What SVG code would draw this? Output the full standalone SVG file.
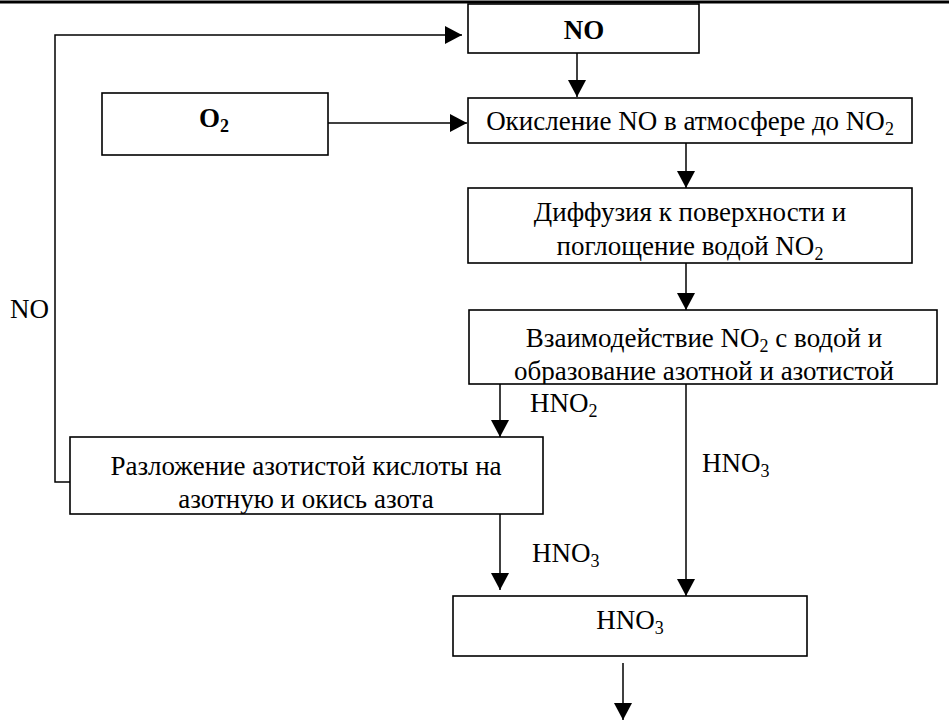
<svg xmlns="http://www.w3.org/2000/svg" width="949" height="720" viewBox="0 0 949 720">
<style>
.box{fill:#fff;stroke:#000;stroke-width:1.6}
text{font-family:'Liberation Serif','Times New Roman',Tinos,'DejaVu Serif',serif;font-size:27px;fill:#000}
.t{text-anchor:middle}
.b{font-weight:bold}
.ln{fill:none;stroke:#000;stroke-width:1.5}
.sub{font-size:18px}
</style>
<defs>
<marker id="ah" markerUnits="userSpaceOnUse" markerWidth="17" markerHeight="18" viewBox="0 0 17 18" refX="17" refY="9" orient="auto">
<path d="M0,0 L17,9 L0,18 Z" fill="#000"/>
</marker>
<clipPath id="c3"><rect x="468" y="188" width="444" height="75"/></clipPath>
<clipPath id="c4"><rect x="469" y="310" width="468" height="74"/></clipPath>
<clipPath id="c5"><rect x="70" y="437" width="473" height="77"/></clipPath>
</defs>
<line x1="0" y1="2" x2="949" y2="2" stroke="#000" stroke-width="3"/>
<g id="connectors">
<line class="ln" x1="577" y1="53" x2="577" y2="97" marker-end="url(#ah)"/>
<line class="ln" x1="328" y1="123" x2="467" y2="123" marker-end="url(#ah)"/>
<line class="ln" x1="686" y1="143" x2="686" y2="188" marker-end="url(#ah)"/>
<line class="ln" x1="686" y1="263" x2="686" y2="310" marker-end="url(#ah)"/>
<line class="ln" x1="500" y1="384" x2="500" y2="437" marker-end="url(#ah)"/>
<line class="ln" x1="686" y1="384" x2="686" y2="596" marker-end="url(#ah)"/>
<line class="ln" x1="500" y1="514" x2="500" y2="590" marker-end="url(#ah)"/>
<line class="ln" x1="623" y1="663" x2="623" y2="720" marker-end="url(#ah)"/>
<polyline class="ln" points="70,482 55,482 55,35 462,35" marker-end="url(#ah)"/>
<text font-family="Liberation Serif, serif" x="10" y="318">NO</text>
<text font-family="Liberation Serif, serif" x="530" y="412">HNO<tspan class="sub" dy="5">2</tspan></text>
<text font-family="Liberation Serif, serif" x="702" y="472">HNO<tspan class="sub" dy="5">3</tspan></text>
<text font-family="Liberation Serif, serif" x="532" y="562">HNO<tspan class="sub" dy="5">3</tspan></text>
</g>
<g id="n-no">
<rect class="box" x="468" y="4" width="231" height="49"/>
<text class="t b" x="584" y="39">NO</text>
</g>
<g id="n-o2">
<rect class="box" x="102" y="93" width="226" height="62"/>
<text class="t b" x="214" y="127">O<tspan class="sub" dy="5">2</tspan></text>
</g>
<g id="n-oxid">
<rect class="box" x="468" y="98" width="444" height="45"/>
<text class="t" x="690" y="130">Окисление NO в атмосфере до NO<tspan class="sub" dy="5">2</tspan></text>
</g>
<g id="n-diff">
<rect class="box" x="468" y="188" width="444" height="75"/>
<g clip-path="url(#c3)">
<text class="t" x="690" y="221">Диффузия к поверхности и</text>
<text class="t" x="690" y="255">поглощение водой NO<tspan class="sub" dy="5">2</tspan></text>
</g>
</g>
<g id="n-inter">
<rect class="box" x="469" y="310" width="468" height="74"/>
<g clip-path="url(#c4)">
<text class="t" x="704" y="347">Взаимодействие NO<tspan class="sub" dy="5">2</tspan><tspan dy="-5"> с водой и</tspan></text>
<text class="t" x="704" y="380">образование азотной и азотистой</text>
</g>
</g>
<g id="n-decomp">
<rect class="box" x="70" y="437" width="473" height="77"/>
<g clip-path="url(#c5)">
<text class="t" x="306" y="475">Разложение азотистой кислоты на</text>
<text class="t" x="306" y="508">азотную и окись азота</text>
</g>
</g>
<g id="n-hno3">
<rect class="box" x="453" y="596" width="354" height="60"/>
<text class="t" x="630" y="629">HNO<tspan class="sub" dy="5">3</tspan></text>
</g>
</svg>
